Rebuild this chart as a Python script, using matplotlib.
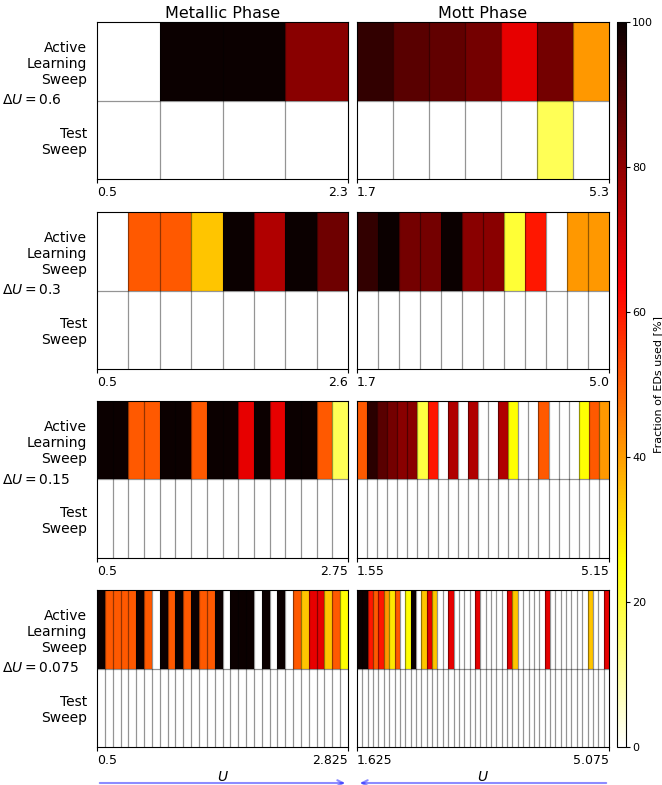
import numpy as np
import matplotlib.pyplot as plt

# sweep step sizes (one row of panels each)
dU = [0.6, 0.3, 0.15, 0.075]

# first / last U of each sweep
metal_lo = ["0.5", "0.5", "0.5", "0.5"]
metal_hi = ["2.3", "2.6", "2.75", "2.825"]
mott_lo = ["1.7", "1.7", "1.55", "1.625"]
mott_hi = ["5.3", "5.0", "5.15", "5.075"]

# fraction of EDs used [%], active learning sweep
metal_06 = [0, 100, 100, 81]
mott_06 = [94, 88, 87, 84, 67, 84, 41]

metal_03 = [0, 50, 50, 34, 100, 75, 100, 85]
mott_03 = [94, 100, 84, 84, 100, 81, 81, 20, 60, 0, 41, 41]

metal_015 = [100, 100, 50, 50, 100, 100, 50, 100, 100, 67, 100, 67, 100, 100, 50, 17]
mott_015 = [50, 95, 88, 84, 81, 81, 19, 60, 0, 75, 0, 75, 0, 0, 75, 25,
            0, 0, 50, 0, 0, 0, 25, 50, 41]

metal_0075 = [100, 50, 50, 50, 50, 100, 50, 0, 100, 50, 100, 50, 100, 50, 50, 100,
              0, 100, 100, 100, 0, 100, 0, 100, 0, 50, 34, 67, 67, 34, 50, 25]
mott_0075 = [100, 100, 60, 50, 60, 41, 29, 50, 0, 25, 100, 0, 34, 67, 34, 0,
             0, 67, 0, 0, 0, 0, 67, 0, 0, 0, 0, 0, 67, 34, 0, 0,
             0, 0, 0, 67, 0, 0, 0, 0, 0, 0, 0, 34, 0, 0, 67]

# test sweep (only one point non-zero)
mott_06_test = [0, 0, 0, 0, 0, 17, 0]

active = [[metal_06, mott_06], [metal_03, mott_03],
          [metal_015, mott_015], [metal_0075, mott_0075]]
test = [[np.zeros(len(metal_06)), mott_06_test],
        [np.zeros(len(metal_03)), np.zeros(len(mott_03))],
        [np.zeros(len(metal_015)), np.zeros(len(mott_015))],
        [np.zeros(len(metal_0075)), np.zeros(len(mott_0075))]]
lo = [metal_lo, mott_lo]
hi = [metal_hi, mott_hi]
titles = ["Metallic Phase", "Mott Phase"]

W, H = 662, 785
fig = plt.figure(figsize=(W / 100, H / 100), dpi=100)


def px_axes(x, y, w, h):
    return fig.add_axes([x / W, 1 - (y + h) / H, w / W, h / H])


tops = [22, 212, 401, 590]
ph = 157
cols = [(97, 251), (357, 252)]
grid_c = (0, 0, 0, 0.42)

for i in range(4):
    for j in range(2):
        ax = px_axes(cols[j][0], tops[i], cols[j][1], ph)
        a = np.asarray(active[i][j], dtype=float)
        t = np.asarray(test[i][j], dtype=float)
        n = len(a)
        mesh = ax.pcolormesh(np.arange(n + 1), [0, 1, 2], np.vstack([a, t]),
                             cmap="hot_r", vmin=0, vmax=100)
        ax.vlines(np.arange(1, n), 0, 2, color=grid_c, lw=0.9)
        ax.hlines(1, 0, n, color=grid_c, lw=0.9)
        ax.set_xlim(0, n)
        ax.set_ylim(2, 0)
        ax.set_xticks([0, n], [lo[j][i], hi[j][i]])
        tl = ax.get_xticklabels()
        tl[0].set_ha("left")
        tl[1].set_ha("right")
        ax.tick_params(axis="x", length=3, labelsize=9, pad=2)
        if j == 0:
            ax.set_yticks([0.5, 1.5], ["Active\nLearning\nSweep", "Test\nSweep"])
            ax.tick_params(axis="y", length=0, labelsize=10, pad=7)
        else:
            ax.set_yticks([])
        if i == 0:
            ax.set_title(titles[j], fontsize=11.5, pad=3)
        if i == 3:
            ax.set_xlabel("$U$", fontsize=10, labelpad=2)
    fig.text(2 / W, 1 - (tops[i] + ph / 2) / H, r"$\Delta U = %s$" % dU[i],
             va="center", ha="left", fontsize=10)

# colorbar
cax = px_axes(617, 22, 9, 725)
cb = fig.colorbar(mesh, cax=cax)
cb.ax.tick_params(labelsize=8, length=3, pad=1.5)
cb.set_label("Fraction of EDs used [%]", fontsize=8, labelpad=0)

# direction of the sweeps
arrow = dict(arrowstyle="->", color="blue", alpha=0.45, lw=1.5)
plt.annotate("", xy=(348 / W, 2 / H), xytext=(97 / W, 2 / H),
             xycoords="figure fraction", arrowprops=arrow)
plt.annotate("", xy=(357 / W, 2 / H), xytext=(609 / W, 2 / H),
             xycoords="figure fraction", arrowprops=arrow)

fig.savefig("out.png", dpi=100)
